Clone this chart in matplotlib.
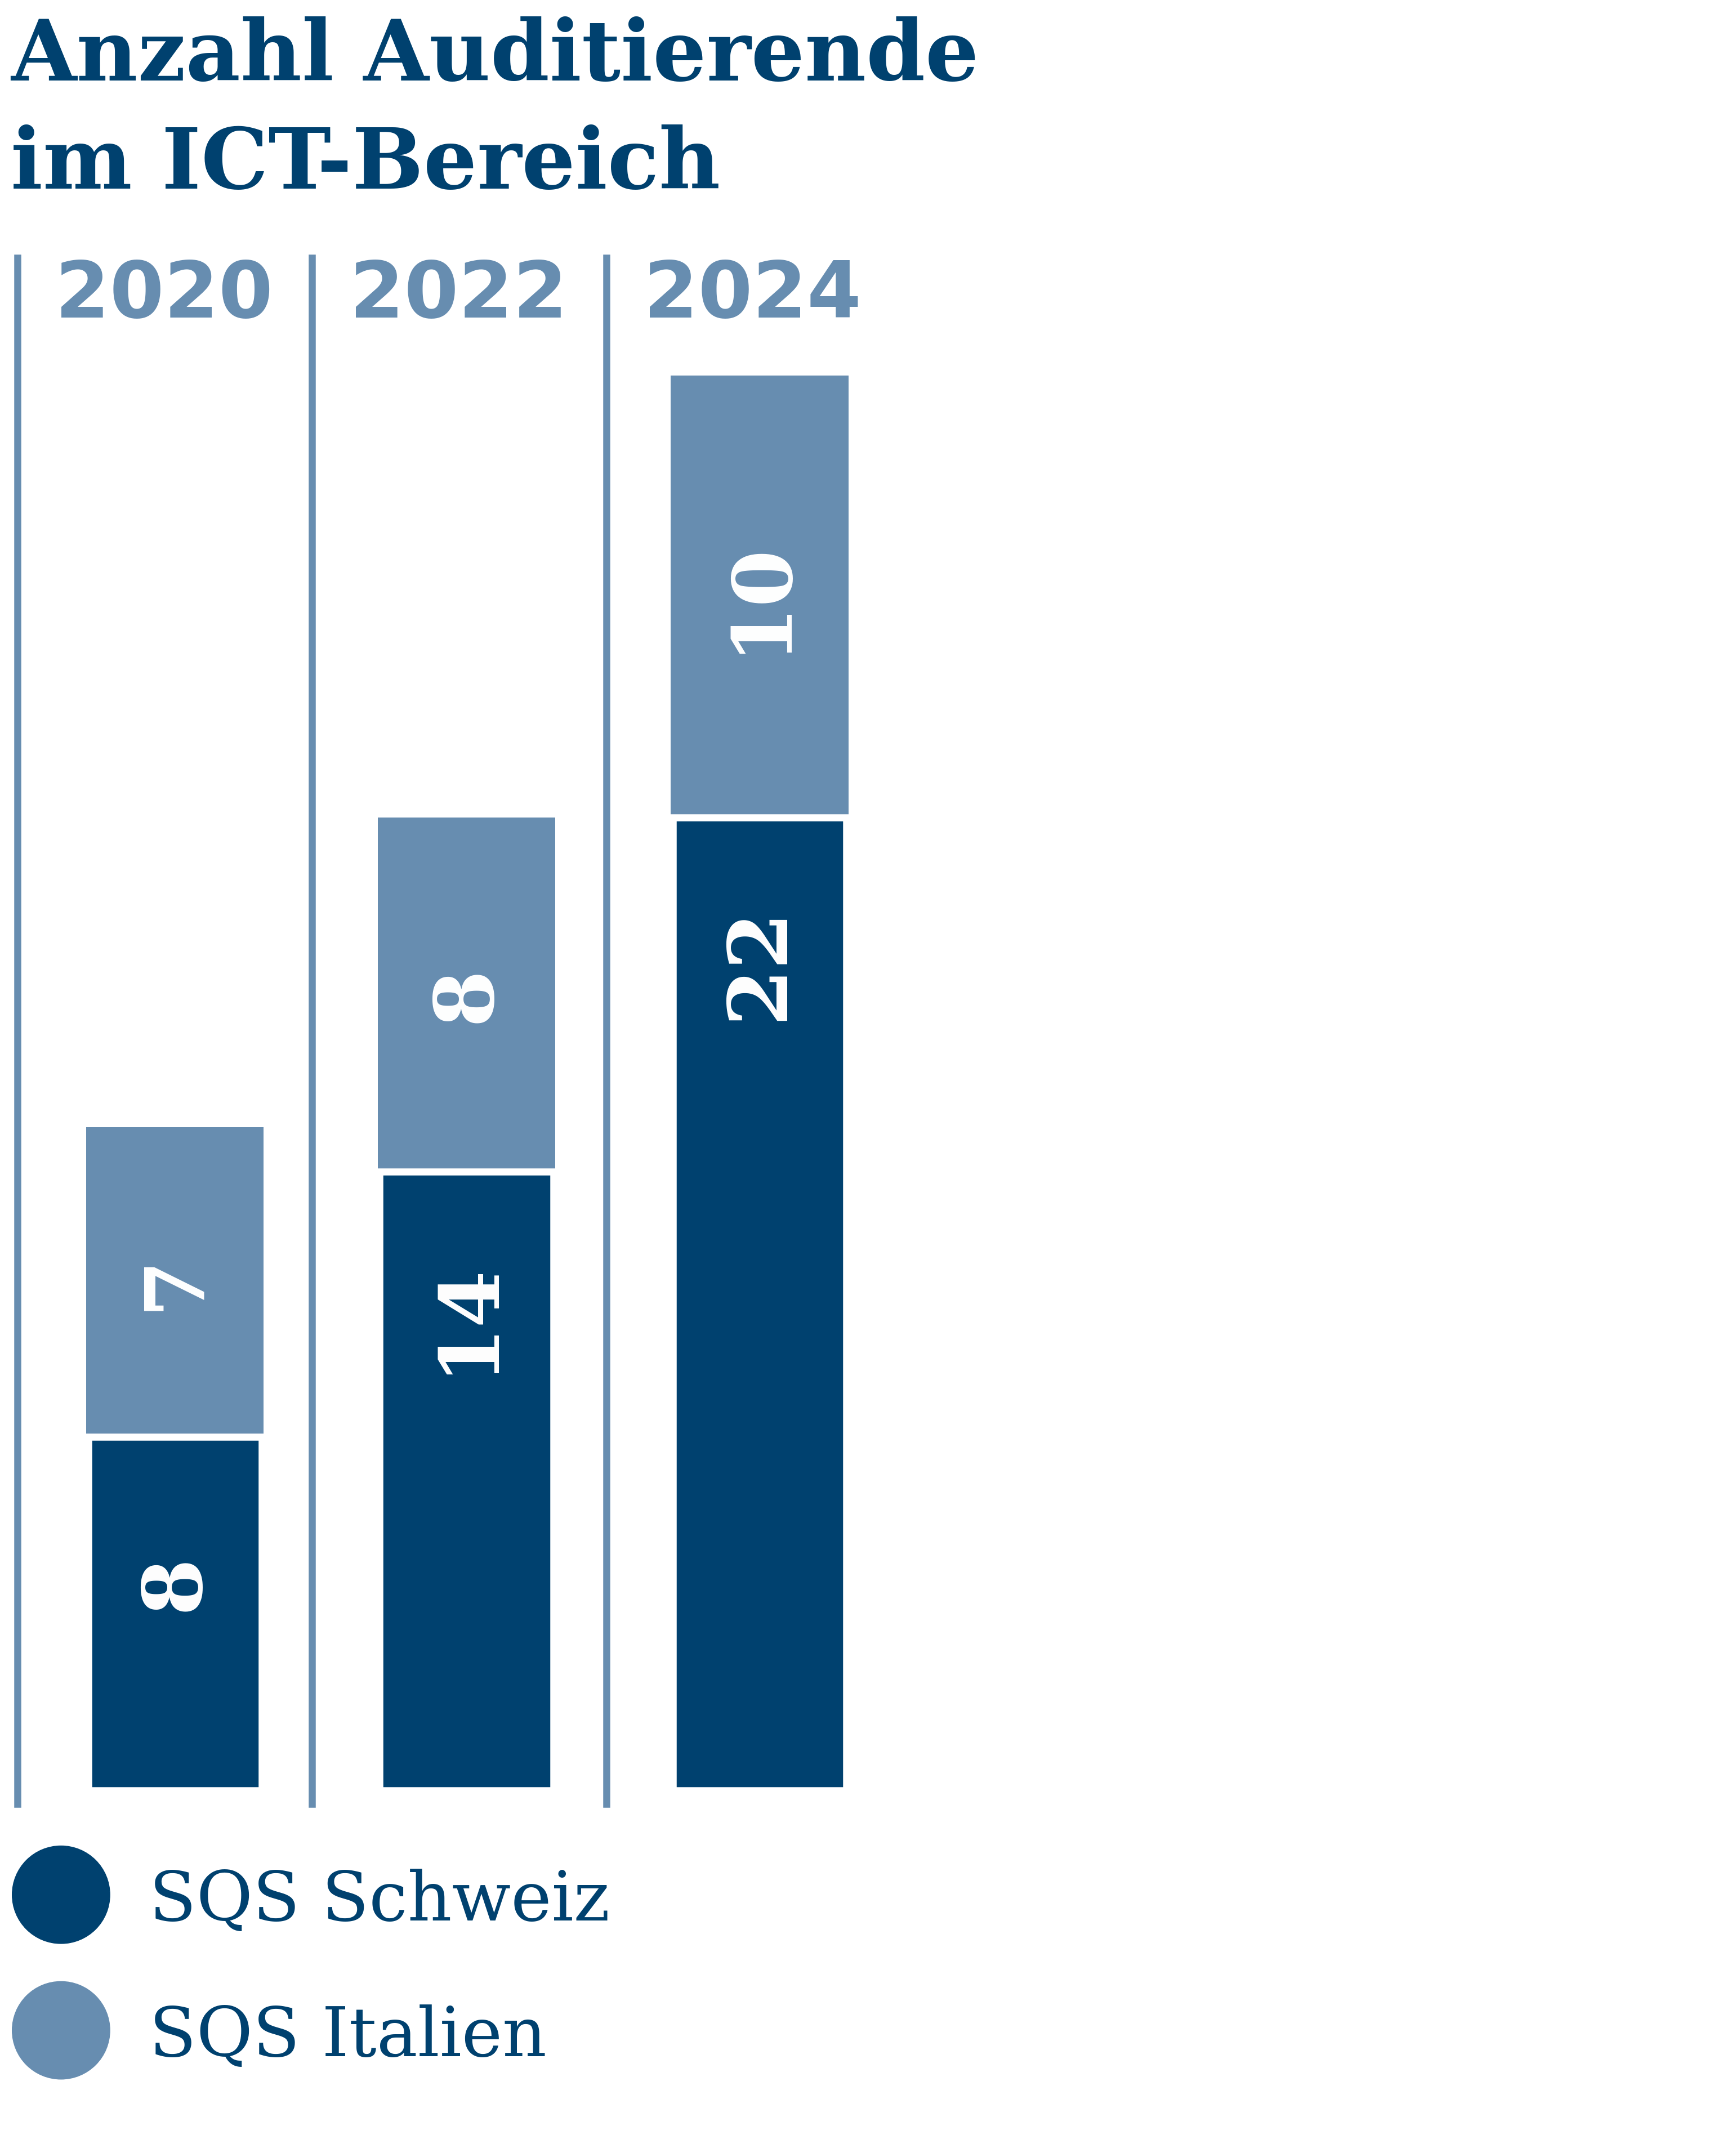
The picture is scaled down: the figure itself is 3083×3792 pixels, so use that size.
import matplotlib
matplotlib.use('Agg')
from matplotlib import pyplot as plt
from matplotlib.patches import Circle

years = ['2020', '2022', '2024']
schweiz = [8, 14, 22]
italien = [7, 8, 10]
legend_labels = ['SQS Schweiz', 'SQS Italien']

dark = '#00416f'
light = '#678db0'

W, H = 1280, 1574  # layout units (scaled reference)
fig = plt.figure(figsize=(30.83, 37.92), dpi=100)

# main axes: x in layout units, y in data units
bottom_px, top_px = 1320, 190
ax = fig.add_axes([0, 1 - bottom_px / H, 1, (bottom_px - top_px) / H])
ax.set_xlim(0, W)
ax.set_ylim(0, (bottom_px - top_px) / 32.6)
ax.axis('off')

centers = [129, 344, 560]
ax.bar(centers, schweiz, width=128, color=dark, edgecolor='white', linewidth=9, zorder=3)
ax.bar(centers, italien, bottom=schweiz, width=131, color=light, zorder=2)

for c, s, i in zip(centers, schweiz, italien):
    ax.text(c, s - 3.3, str(s), rotation=90, ha='center', va='center', color='white',
            fontsize=105, fontweight='bold', family='DejaVu Serif', zorder=4)
    ax.text(c, s + i / 2, str(i), rotation=90, ha='center', va='center', color='white',
            fontsize=105, fontweight='bold', family='DejaVu Serif', zorder=4)

# dividers and year labels
for x, yr in zip([13, 230, 447], years):
    fig.add_artist(plt.Line2D([x / W, x / W], [1 - 1330 / H, 1 - 190 / H],
                              color=light, linewidth=9))
    fig.text((x + 108) / W, 1 - 218 / H, yr, ha='center', va='center', color=light,
             fontsize=100, fontweight='bold', family='DejaVu Sans')

fig.text(8 / W, 1 - 42 / H, 'Anzahl Auditierende', ha='left', va='center', color=dark,
         fontsize=108, fontweight='bold', family='DejaVu Serif')
fig.text(8 / W, 1 - 122 / H, 'im ICT-Bereich', ha='left', va='center', color=dark,
         fontsize=108, fontweight='bold', family='DejaVu Serif')

# legend
lax = fig.add_axes([0, 0, 1, 1], zorder=-1)
lax.set_xlim(0, W)
lax.set_ylim(H, 0)
lax.set_aspect('equal')
lax.axis('off')
for yc, lab, col in zip([1397, 1497], legend_labels, [dark, light]):
    lax.add_patch(Circle((45, yc), 36, color=col))
    lax.text(110, yc + 5, lab, ha='left', va='center', color=dark,
             fontsize=88, family='DejaVu Serif')

plt.savefig('out.png', dpi=100)
